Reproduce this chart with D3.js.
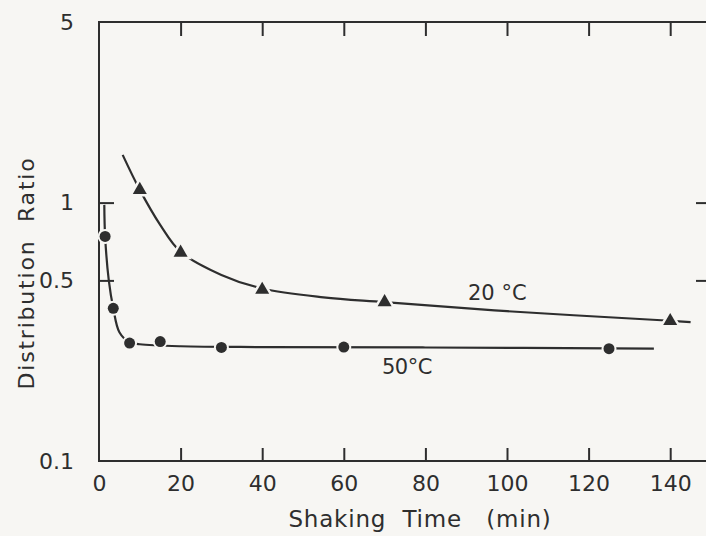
<!DOCTYPE html>
<html>
<head>
<meta charset="utf-8">
<script src="https://cdn.jsdelivr.net/npm/d3@7/dist/d3.min.js"></script>
<style>
  html, body { margin: 0; padding: 0; background: #f7f6f3; }
  svg { display: block; }
  text { font-family: "DejaVu Sans", "Liberation Sans", sans-serif; fill: #2e2e2e; }
</style>
</head>
<body>
<svg id="chart" width="706" height="536"></svg>
<script>
// Measured points: shaking time (min) vs distribution ratio
const time20 = [10, 20, 40, 70, 140];
const ratio20 = [1.12, 0.64, 0.46, 0.412, 0.348];
const time50 = [1.5, 3.5, 7.5, 15, 30, 60, 125];
const ratio50 = [0.74, 0.39, 0.286, 0.29, 0.275, 0.276, 0.272];

// Hand-drawn trend curves through each series
const curveTime20 = [5.8, 10, 15, 20, 30, 40, 55, 70, 100, 140, 145];
const curveRatio20 = [1.53, 1.12, 0.82, 0.645, 0.525, 0.465, 0.43, 0.412, 0.38, 0.349, 0.345];
const curveTime50 = [1.3, 1.5, 2.4, 3.5, 5, 7.5, 10, 20, 40, 80, 136];
const curveRatio50 = [0.98, 0.74, 0.5, 0.39, 0.315, 0.288, 0.283, 0.278, 0.276, 0.275, 0.272];

const xTicks = [0, 20, 40, 60, 80, 100, 120, 140];
const yTicks = [0.1, 0.5, 1, 5];
const yTickLabels = ["0.1", "0.5", "1", "5"];

const svg = d3.select("#chart");
const plotLeft = 99, plotRight = 711, plotTop = 22, plotBottom = 461;
const ink = "#2e2e2e";
const bg = "#f7f6f3";

const x = d3.scaleLinear().domain([0, 150]).range([plotLeft, plotRight]);
const y = d3.scaleLog().domain([0.1, 5]).range([plotBottom, plotTop]);

// Frame
svg.append("rect")
  .attr("x", plotLeft).attr("y", plotTop)
  .attr("width", plotRight - plotLeft).attr("height", plotBottom - plotTop)
  .attr("fill", "none").attr("stroke", ink).attr("stroke-width", 2);

// Axes with inward ticks
const xAxisB = d3.axisBottom(x).tickValues(xTicks).tickSize(-13).tickPadding(14).tickFormat(d3.format("d"));
const gxb = svg.append("g").attr("transform", `translate(0,${plotBottom})`).call(xAxisB);
const gxt = svg.append("g").attr("transform", `translate(0,${plotTop})`)
  .call(d3.axisTop(x).tickValues(xTicks.slice(1)).tickSize(-14).tickFormat(""));

const yAxisL = d3.axisLeft(y).tickValues(yTicks).tickSize(-15).tickPadding(25)
  .tickFormat((d, i) => yTickLabels[i]);
const gyl = svg.append("g").attr("transform", `translate(${plotLeft},0)`).call(yAxisL);
const gyr = svg.append("g").attr("transform", `translate(${plotRight},0)`)
  .call(d3.axisRight(y).tickValues([0.5, 1]).tickSize(-15).tickFormat(""));

[gxb, gxt, gyl, gyr].forEach(g => {
  g.select(".domain").remove();
  g.selectAll(".tick line").attr("stroke", ink).attr("stroke-width", 2);
  g.selectAll(".tick text").attr("font-size", 22).attr("fill", ink).style("font-family", "'DejaVu Sans', sans-serif");
});
gyl.selectAll(".tick").filter(d => d === 0.1 || d === 5).select("line").remove();
gxb.selectAll(".tick").filter(d => d === 0).select("line").remove();

// Trend curves
const line = d3.line().x(d => x(d[0])).y(d => y(d[1])).curve(d3.curveCatmullRom.alpha(0.5));
svg.append("path")
  .datum(d3.zip(curveTime20, curveRatio20))
  .attr("d", line).attr("fill", "none").attr("stroke", ink).attr("stroke-width", 2.2);
svg.append("path")
  .datum(d3.zip(curveTime50, curveRatio50))
  .attr("d", line).attr("fill", "none").attr("stroke", ink).attr("stroke-width", 2.2);

// Markers with a light halo so the curve breaks around them
const tri = d3.symbol().type(d3.symbolTriangle).size(85);
svg.append("g").selectAll("path")
  .data(d3.zip(time20, ratio20)).join("path")
  .attr("d", tri)
  .attr("transform", d => `translate(${x(d[0])},${y(d[1])})`)
  .attr("fill", ink).attr("stroke", bg).attr("stroke-width", 5).attr("paint-order", "stroke");

svg.append("g").selectAll("circle")
  .data(d3.zip(time50, ratio50)).join("circle")
  .attr("cx", d => x(d[0])).attr("cy", d => y(d[1])).attr("r", 5.5)
  .attr("fill", ink).attr("stroke", bg).attr("stroke-width", 4).attr("paint-order", "stroke");

// Series labels
svg.append("text").attr("x", 468).attr("y", 300).attr("font-size", 21).text("20 \u00b0C");
svg.append("text").attr("x", 382).attr("y", 374).attr("font-size", 21)
  .style("letter-spacing", "-0.5px").text("50\u00b0C");

// Axis titles
svg.append("text").attr("x", 420).attr("y", 527).attr("text-anchor", "middle")
  .attr("font-size", 23).style("white-space", "pre")
  .style("letter-spacing", "0.8px")
  .text("Shaking  Time   (min)");
svg.append("text")
  .attr("transform", "translate(34,273) rotate(-90)")
  .attr("text-anchor", "middle").attr("font-size", 22)
  .style("white-space", "pre").style("letter-spacing", "1.8px")
  .text("Distribution  Ratio");
</script>
</body>
</html>
